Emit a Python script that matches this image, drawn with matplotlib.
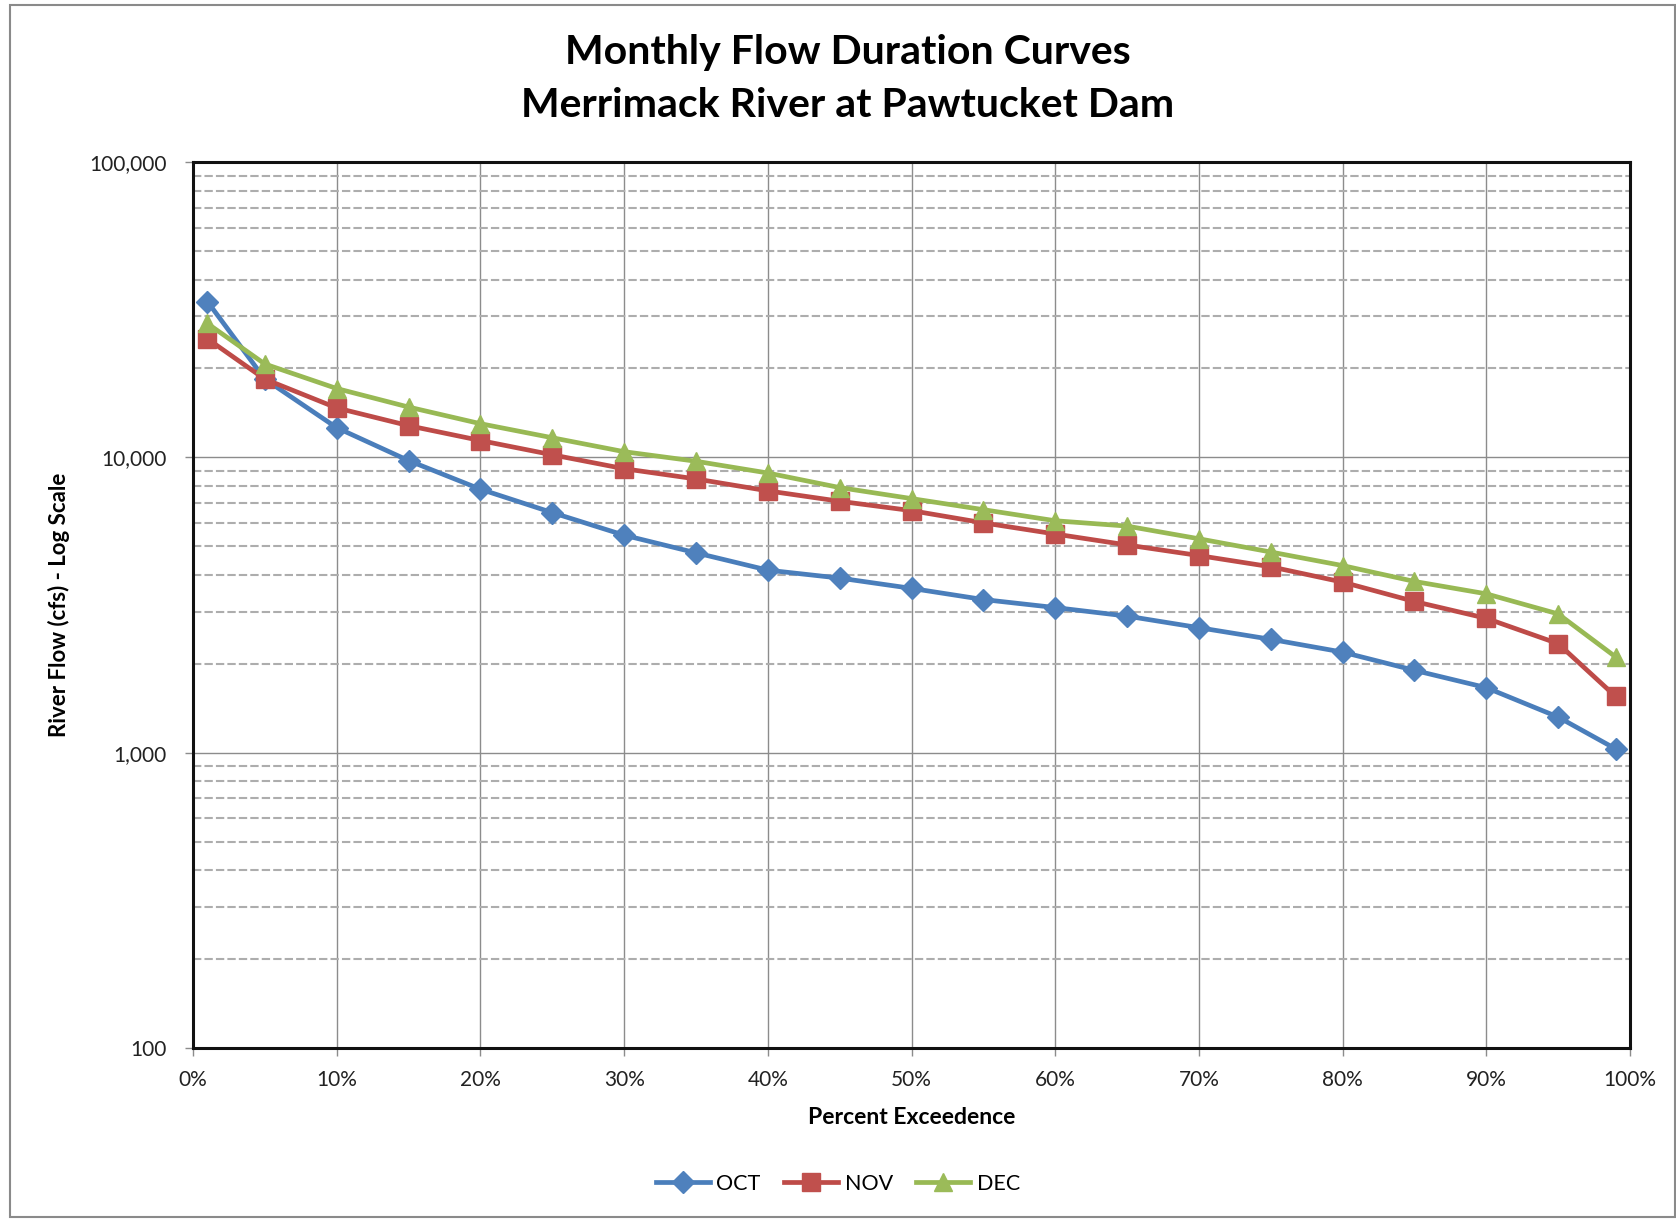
import matplotlib
matplotlib.use("Agg")
import matplotlib.pyplot as plt
from matplotlib.patches import Rectangle
from matplotlib.ticker import FuncFormatter, LogLocator, MultipleLocator, NullFormatter

# Percent exceedence for each point on the curves
exceedence = [1, 5, 10, 15, 20, 25, 30, 35, 40, 45, 50, 55, 60, 65, 70, 75, 80, 85, 90, 95, 99]

# Flow (cfs) at each exceedence level, by month
oct_flow = [33700, 18400, 12600, 9750, 7800, 6500, 5450, 4750, 4150, 3900, 3600,
            3300, 3100, 2900, 2650, 2420, 2190, 1900, 1660, 1320, 1030]
nov_flow = [25200, 18400, 14700, 12800, 11400, 10200, 9150, 8450, 7700, 7100, 6600,
            6000, 5500, 5050, 4650, 4260, 3780, 3250, 2850, 2340, 1550]
dec_flow = [28400, 20700, 17100, 14800, 13000, 11650, 10450, 9700, 8850, 7900, 7250,
            6650, 6100, 5850, 5300, 4780, 4300, 3800, 3450, 2950, 2110]

months = ["OCT", "NOV", "DEC"]
flows = [oct_flow, nov_flow, dec_flow]
line_colors = ["#4A7EBB", "#BE4B48", "#98B954"]
marker_colors = ["#4F81BD", "#C0504D", "#9BBB59"]
markers = ["D", "s", "^"]
marker_sizes = [11.5, 13, 13.5]

plt.rcParams["font.family"] = ["Lato", "DejaVu Sans"]

fig = plt.figure(figsize=(16.76, 12.2), dpi=100)
ax = fig.add_axes([193 / 1676, 1 - 1048 / 1220, (1630 - 193) / 1676, (1048 - 162) / 1220])

for month, flow, lc, mc, mk, ms in zip(months, flows, line_colors, marker_colors, markers, marker_sizes):
    ax.plot(exceedence, flow, color=lc, linewidth=3.4, marker=mk, markersize=ms,
            markerfacecolor=mc, markeredgecolor=mc, label=month, zorder=3)

ax.set_yscale("log")
ax.set_ylim(100, 100000)
ax.set_xlim(0, 100)

ax.xaxis.set_major_locator(MultipleLocator(10))
ax.xaxis.set_major_formatter(FuncFormatter(lambda v, p: f"{v:.0f}%"))
ax.yaxis.set_major_locator(LogLocator(base=10, numticks=10))
ax.yaxis.set_minor_locator(LogLocator(base=10, subs=range(2, 10), numticks=20))
ax.yaxis.set_major_formatter(FuncFormatter(lambda v, p: f"{v:,.0f}"))
ax.yaxis.set_minor_formatter(NullFormatter())

# Excel-style grid: solid major lines, dashed minor lines on the log axis
ax.grid(which="major", axis="both", color="#8C8C8C", linewidth=1.0, linestyle="-", zorder=1)
ax.grid(which="minor", axis="y", color="#ADADAD", linewidth=1.5, linestyle=(0, (4, 1.5)), zorder=1)
ax.set_axisbelow(True)

ax.tick_params(axis="both", which="major", length=6, width=1, color="#8C8C8C",
               labelsize=15, labelcolor="#222222")
ax.tick_params(axis="y", which="major", pad=13)
ax.tick_params(axis="x", which="major", pad=10)
ax.tick_params(axis="y", which="minor", length=0)

for spine in ax.spines.values():
    spine.set_color("#111111")
    spine.set_linewidth(2.2)

ax.set_xlabel("Percent Exceedence", fontsize=16.5, fontweight="bold", va="center")
ax.xaxis.set_label_coords(0.5, -0.079)
ax.set_ylabel("River Flow (cfs) - Log Scale", fontsize=16, fontweight="bold", va="center")
ax.yaxis.set_label_coords(-0.093, 0.5)

fig.text(0.506, 0.9566, "Monthly Flow Duration Curves", ha="center", va="center",
         fontsize=29.5, fontweight="bold")
fig.text(0.506, 0.9139, "Merrimack River at Pawtucket Dam", ha="center", va="center",
         fontsize=29.5, fontweight="bold")

fig.legend(loc="center", bbox_to_anchor=(0.5, 0.0295), ncol=3, frameon=False,
           fontsize=15.5, handlelength=2.5, columnspacing=1.1, handletextpad=0.3)

# Light border around the whole chart area
fig.patches.append(Rectangle((10 / 1676, 3 / 1220), 1 - 11 / 1676, 1 - 8 / 1220,
                             transform=fig.transFigure, fill=False,
                             edgecolor="#8A8A8A", linewidth=1.5))

fig.savefig("out.png", dpi=100)
